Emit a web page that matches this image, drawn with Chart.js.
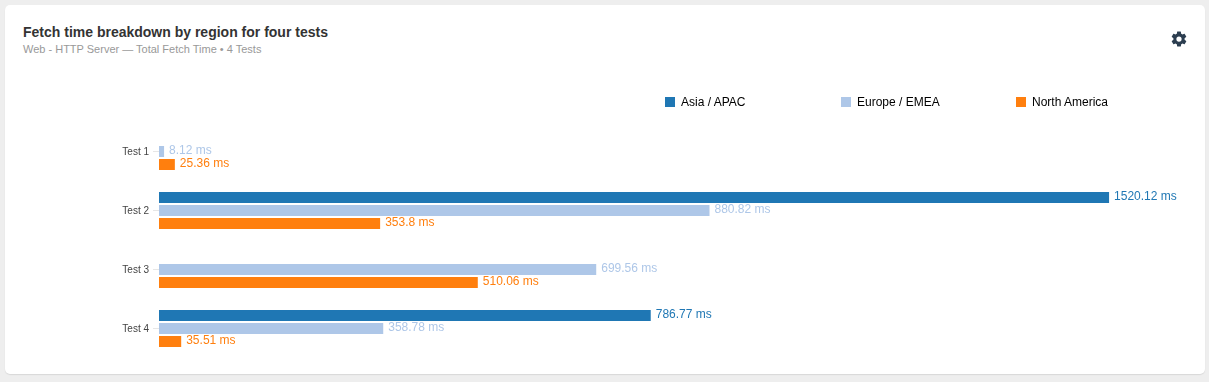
<!DOCTYPE html>
<html>
<head>
<meta charset="utf-8">
<script src="https://cdn.jsdelivr.net/npm/chart.js@4"></script>
<style>
    html, body { margin: 0; padding: 0; width: 1209px; height: 382px; overflow: hidden; background: #eeeeee; font-family: "Liberation Sans", Arial, sans-serif; }
    .card { position: absolute; left: 5px; top: 5px; width: 1200px; height: 369px; background: #fff; border-radius: 5px; box-shadow: 0 1px 1px #d8d8d8; }
    .title { position: absolute; left: 23px; top: 24px; font-size: 14px; line-height: 16px; font-weight: bold; color: #333; }
    .subtitle { position: absolute; left: 23px; top: 42px; font-size: 11px; line-height: 14px; color: #999; }
    .gear { position: absolute; left: 1170px; top: 30px; width: 18px; height: 18px; }
    canvas { position: absolute; left: 0; top: 0; }
    .legend-item { position: absolute; top: 95px; font-size: 12px; line-height: 14px; color: #000; white-space: nowrap; }
    .legend-item i { position: absolute; left: 0; top: 2px; width: 10px; height: 10px; }
    .legend-item span { margin-left: 16px; }
</style>
</head>
<body>
<div class="card"></div>
<div class="title">Fetch time breakdown by region for four tests</div>
<div class="subtitle">Web - HTTP Server — Total Fetch Time • 4 Tests</div>
<svg class="gear" viewBox="0 0 24 24"><path fill="#2c3e50" d="M19.4 13c.04-.33.1-.66.1-1s-.06-.67-.1-1l2.1-1.65c.2-.15.25-.42.13-.64l-2-3.46c-.12-.22-.39-.3-.61-.22l-2.49 1c-.52-.4-1.08-.73-1.69-.98l-.38-2.65A.49.49 0 0 0 14 2h-4c-.25 0-.46.18-.49.42l-.38 2.65c-.61.25-1.17.59-1.69.98l-2.49-1c-.23-.09-.49 0-.61.22l-2 3.46c-.13.22-.07.49.12.64L4.57 11c-.04.33-.07.66-.07 1s.03.67.07 1l-2.11 1.65c-.19.15-.24.42-.12.64l2 3.46c.12.22.39.3.61.22l2.49-1c.52.4 1.08.73 1.69.98l.38 2.65c.03.24.24.42.49.42h4c.25 0 .46-.18.49-.42l.38-2.65c.61-.25 1.17-.59 1.69-.98l2.49 1c.23.09.49 0 .61-.22l2-3.46c.12-.22.07-.49-.12-.64L19.4 13zM12 15.5a3.5 3.5 0 1 1 0-7 3.5 3.5 0 0 1 0 7z"/></svg>
<canvas id="chart" width="1209" height="382"></canvas>
<script>
const categories = ['Test 1', 'Test 2', 'Test 3', 'Test 4'];
const regions = ['Asia / APAC', 'Europe / EMEA', 'North America'];
const asiaValues = [null, 1520.12, null, 786.77];
const europeValues = [8.12, 880.82, 699.56, 358.78];
const northAmericaValues = [25.36, 353.8, 510.06, 35.51];
const colors = ['#1f77b4', '#aec7e8', '#ff7f0e'];
const legendLeft = [665, 841, 1016];

regions.forEach((name, i) => {
    const item = document.createElement('div');
    item.className = 'legend-item';
    item.style.left = legendLeft[i] + 'px';
    item.innerHTML = `<i style="background:${colors[i]}"></i><span>${name}</span>`;
    document.body.appendChild(item);
});

// value labels at the end of each bar
const barLabels = {
    id: 'barLabels',
    afterDatasetsDraw(chart) {
        const ctx = chart.ctx;
        ctx.save();
        ctx.font = '12px "Liberation Sans", Arial, sans-serif';
        ctx.textBaseline = 'middle';
        chart.data.datasets.forEach((dataset, i) => {
            chart.getDatasetMeta(i).data.forEach((bar, j) => {
                const value = dataset.data[j];
                if (value === null) return;
                ctx.fillStyle = colors[i];
                ctx.fillText(value + ' ms', bar.x + 5, bar.y - 1);
            });
        });
        ctx.restore();
    }
};

new Chart(document.getElementById('chart'), {
    type: 'bar',
    data: {
        labels: categories,
        datasets: [
            { label: regions[0], data: asiaValues, backgroundColor: colors[0] },
            { label: regions[1], data: europeValues, backgroundColor: colors[1] },
            { label: regions[2], data: northAmericaValues, backgroundColor: colors[2] }
        ]
    },
    options: {
        indexAxis: 'y',
        responsive: false,
        animation: false,
        categoryPercentage: 0.661,
        barPercentage: 0.846,
        layout: { padding: { top: 122, bottom: 24, right: 10 } },
        plugins: { legend: { display: false }, tooltip: { enabled: false } },
        scales: {
            x: { display: false, min: 0, max: 1664 },
            y: {
                afterFit: (scale) => { scale.width = 159; },
                border: { display: false },
                grid: { offset: false, drawOnChartArea: false, tickLength: 6, tickColor: '#e6e6e6' },
                ticks: { color: '#444', padding: 4, labelOffset: 1, font: { size: 10, family: '"Liberation Sans", Arial, sans-serif' } }
            }
        }
    },
    plugins: [barLabels]
});
</script>
</body>
</html>
